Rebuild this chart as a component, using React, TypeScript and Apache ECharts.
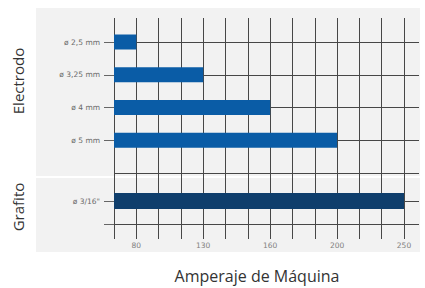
import React, { useEffect, useRef } from "react";
import * as echarts from "echarts";

// ---- data ----
const electrodoCategories = ["ø 2,5 mm", "ø 3,25 mm", "ø 4 mm", "ø 5 mm"];
const electrodoAmperaje = [80, 130, 160, 200];
const grafitoCategories = ['ø 3/16"'];
const grafitoAmperaje = [250];
// labelled amperage ticks; each lies 3 grid steps after the previous one
const tickLabels = [80, 130, 160, 200, 250];
const tickSteps = [1, 4, 7, 10, 13];

// piecewise-linear amperage -> grid-step scale used by the original drawing
function toStep(a: number): number {
  for (let i = 0; i < tickLabels.length - 1; i++) {
    const a0 = tickLabels[i], a1 = tickLabels[i + 1];
    if (a >= a0 && a <= a1) {
      return tickSteps[i] + ((a - a0) / (a1 - a0)) * (tickSteps[i + 1] - tickSteps[i]);
    }
  }
  return a < tickLabels[0] ? tickSteps[0] : tickSteps[tickSteps.length - 1];
}

const GRID_LEFT = 114;
const GRID_WIDTH = 305;
const LAST_STEP_PX = 290; // width from step 0 to step 13
const X_MAX = (13 * GRID_WIDTH) / LAST_STEP_PX;

const LINE = "#474747";

export default function App() {
  const ref = useRef<HTMLDivElement>(null);
  useEffect(() => {
    if (!ref.current) return;
    const chart = echarts.init(ref.current, undefined, { renderer: "svg" });
    const xBase = { type: "value", min: 0, max: X_MAX, interval: 1 };
    const option: any = {
      animation: false,
      grid: [
        { left: GRID_LEFT, top: 18, width: GRID_WIDTH, height: 221 },
        { left: GRID_LEFT, top: 42, width: GRID_WIDTH, height: 131 },
        { left: GRID_LEFT, top: 201, width: GRID_WIDTH, height: 23 },
      ],
      xAxis: [
        {
          ...xBase,
          gridIndex: 0,
          axisLine: { show: false },
          axisTick: { show: false },
          splitLine: { show: true, showMaxLine: false, lineStyle: { color: LINE, width: 1 } },
          axisLabel: {
            margin: 2,
            fontSize: 7.5,
            fontFamily: "DejaVu Sans",
            color: "#808080",
            showMaxLabel: false,
            formatter: (v: number) => {
              const i = tickSteps.indexOf(Math.round(v * 1000) / 1000);
              return i >= 0 ? String(tickLabels[i]) : "";
            },
          },
        },
        { ...xBase, gridIndex: 1, show: false },
        { ...xBase, gridIndex: 2, show: false },
      ],
      yAxis: [
        { type: "value", gridIndex: 0, show: false },
        {
          type: "category",
          gridIndex: 1,
          data: [...electrodoCategories, ""],
          inverse: true,
          boundaryGap: false,
          axisLine: { show: false },
          axisTick: {
            show: true,
            length: 10,
            interval: (i: number) => i < electrodoCategories.length,
            lineStyle: { color: "#666" },
          },
          axisLabel: { margin: 14, fontSize: 7.5, fontFamily: "DejaVu Sans", color: "#6a6a6a" },
          splitLine: { show: true, lineStyle: { color: LINE, width: 1 } },
        },
        {
          type: "category",
          gridIndex: 2,
          data: [...grafitoCategories, ""],
          inverse: true,
          boundaryGap: false,
          axisLine: { show: false },
          axisTick: { show: true, length: 10, lineStyle: { color: "#666" } },
          axisLabel: { margin: 14, fontSize: 7.5, fontFamily: "DejaVu Sans", color: "#6a6a6a" },
          splitLine: { show: true, lineStyle: { color: LINE, width: 1 } },
        },
      ],
      series: [
        {
          type: "bar",
          xAxisIndex: 1,
          yAxisIndex: 1,
          barWidth: 15,
          itemStyle: { color: "#0a5ca6" },
          data: electrodoAmperaje.map(toStep),
          z: 5,
        },
        {
          type: "bar",
          xAxisIndex: 2,
          yAxisIndex: 2,
          barWidth: 16,
          itemStyle: { color: "#0f3e6c" },
          data: grafitoAmperaje.map(toStep),
          z: 5,
        },
      ],
      graphic: [
        {
          type: "rect",
          z: -100,
          silent: true,
          shape: { x: 36, y: 8, width: 384, height: 244 },
          style: { fill: "#f2f2f2" },
        },
        {
          type: "line",
          z: -99,
          silent: true,
          shape: { x1: 36, y1: 177, x2: 420, y2: 177 },
          style: { stroke: "#ffffff", lineWidth: 2 },
        },
        {
          type: "text",
          x: 18,
          y: 81,
          rotation: Math.PI / 2,
          style: {
            text: "Electrodo",
            font: "15px 'Open Sans'",
            fill: "#333333",
            textAlign: "center",
            textVerticalAlign: "middle",
          },
        },
        {
          type: "text",
          x: 18,
          y: 207,
          rotation: Math.PI / 2,
          style: {
            text: "Grafito",
            font: "15px 'Open Sans'",
            fill: "#333333",
            textAlign: "center",
            textVerticalAlign: "middle",
          },
        },
        {
          type: "text",
          x: 257,
          y: 276,
          style: {
            text: "Amperaje de Máquina",
            font: "16px 'Open Sans'",
            fill: "#333333",
            textAlign: "center",
            textVerticalAlign: "middle",
          },
        },
      ],
    };
    chart.setOption(option);
    return () => chart.dispose();
  }, []);
  return (
    <div
      ref={ref}
      style={{ position: "fixed", left: 0, top: 0, width: 425, height: 288, background: "#ffffff" }}
    />
  );
}
